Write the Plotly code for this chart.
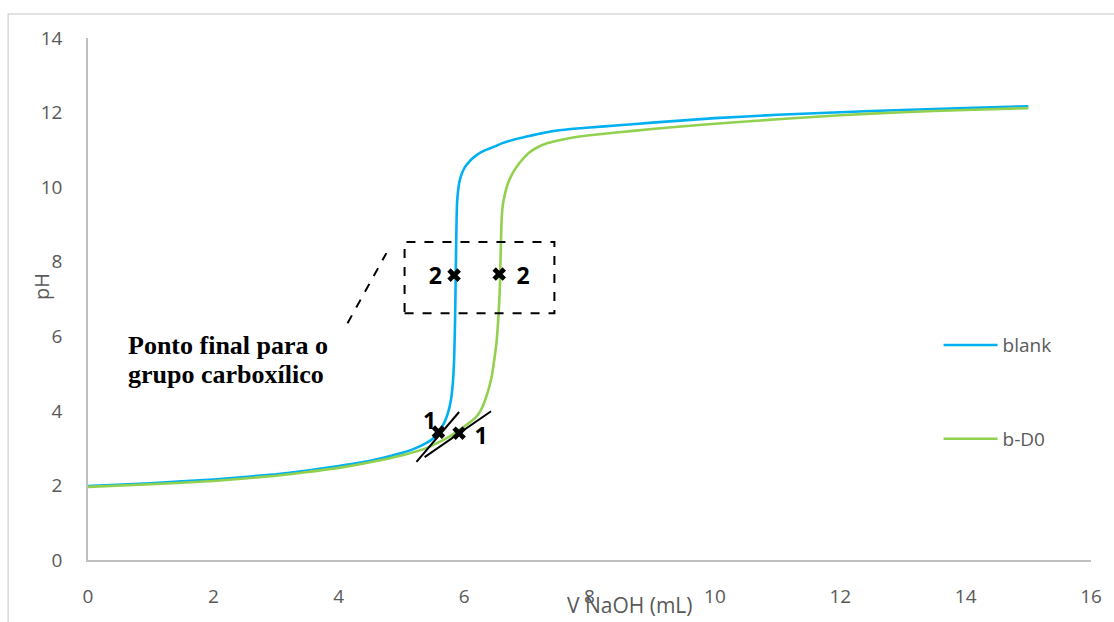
import plotly.graph_objects as go

# ---- data ----
blank_x = [0, 1, 2, 3, 3.5, 4, 4.5, 5, 5.2, 5.4, 5.5, 5.6, 5.68, 5.74, 5.79, 5.82, 5.84, 5.855, 5.865, 5.875, 5.885,
           5.9, 5.92, 5.95, 6.0, 6.04, 6.08, 6.14, 6.2, 6.27, 6.35, 6.5, 6.61, 6.8, 7.0, 7.2, 7.4, 7.7, 8.0, 8.47,
           9, 10, 11, 12, 13, 14, 15]
blank_y = [1.98, 2.06, 2.16, 2.3, 2.4, 2.52, 2.66, 2.87, 2.98, 3.14, 3.25, 3.45, 3.67, 3.93, 4.3, 4.75, 5.35, 6.4,
           7.5, 8.7, 9.5, 9.85, 10.1, 10.3, 10.5, 10.6, 10.68, 10.78, 10.86, 10.94, 11.0, 11.1, 11.18, 11.28, 11.36,
           11.43, 11.5, 11.56, 11.6, 11.66, 11.73, 11.85, 11.94, 12.01, 12.07, 12.12, 12.17]

bd0_x = [0, 1, 2, 3, 3.5, 4, 4.5, 5, 5.4, 5.76, 6.0, 6.1, 6.19, 6.26, 6.32, 6.38, 6.44, 6.48, 6.52, 6.55, 6.57, 6.58,
         6.59, 6.6, 6.62, 6.645, 6.67, 6.72, 6.76, 6.8, 6.88, 6.96, 7.04, 7.15, 7.31, 7.5, 7.67, 8.0, 8.47, 9, 10,
         11, 12, 13, 14, 15]
bd0_y = [1.96, 2.03, 2.12, 2.26, 2.36, 2.47, 2.62, 2.8, 3.0, 3.3, 3.58, 3.7, 3.83, 4.0, 4.22, 4.52, 4.92, 5.36, 5.9,
         6.6, 7.3, 8.0, 8.7, 9.2, 9.55, 9.77, 9.95, 10.19, 10.33, 10.45, 10.64, 10.8, 10.93, 11.05, 11.17, 11.25,
         11.31, 11.39, 11.47, 11.56, 11.7, 11.82, 11.93, 12.01, 12.07, 12.12]

# end-point markers and labels
mark_x = [5.59, 5.92, 5.84, 6.56]
mark_y = [3.43, 3.40, 7.64, 7.67]
label_text = ["1", "1", "2", "2"]
label_x = [5.45, 6.27, 5.54, 6.94]
label_y = [3.67, 3.27, 7.56, 7.56]

# tangent lines at point 1
tan1_x = [5.24, 5.92]
tan1_y = [2.63, 3.97]
tan2_x = [5.37, 6.43]
tan2_y = [2.76, 3.99]

# dashed box and pointer
box_x = [5.05, 7.44]
box_y = [6.62, 8.53]
ptr_x = [4.14, 4.76]
ptr_y = [6.35, 8.23]

note_lines = ["Ponto final para o", "grupo carboxílico"]
note_x = 0.6
note_y = [5.76, 4.97]

x_ticks = [0, 2, 4, 6, 8, 10, 12, 14, 16]
y_ticks = [0, 2, 4, 6, 8, 10, 12, 14]

GREY = "#595959"
FONT = "Open Sans"

fig = go.Figure()
fig.add_trace(go.Scatter(x=blank_x, y=blank_y, mode="lines", name="blank",
                         line=dict(color="#00B0F0", width=2.6, shape="spline", smoothing=0.4),
                         legendgroup="a"))
fig.add_trace(go.Scatter(x=bd0_x, y=bd0_y, mode="lines", name="b-D0",
                         line=dict(color="#92D050", width=2.6, shape="spline", smoothing=0.4),
                         legendgroup="b"))
fig.add_trace(go.Scatter(x=tan1_x, y=tan1_y, mode="lines", showlegend=False,
                         line=dict(color="black", width=2)))
fig.add_trace(go.Scatter(x=tan2_x, y=tan2_y, mode="lines", showlegend=False,
                         line=dict(color="black", width=2)))
fig.add_trace(go.Scatter(x=ptr_x, y=ptr_y, mode="lines", showlegend=False,
                         line=dict(color="black", width=2, dash="dash")))
fig.add_trace(go.Scatter(x=mark_x, y=mark_y, mode="markers", showlegend=False,
                         marker=dict(symbol="x", size=12, color="black")))
fig.add_trace(go.Scatter(x=label_x, y=label_y, mode="text", text=label_text, showlegend=False,
                         textfont=dict(family=FONT, size=23, color="black", weight="bold")))

fig.add_shape(type="rect", xref="x", yref="y", x0=box_x[0], x1=box_x[1], y0=box_y[0], y1=box_y[1],
              line=dict(color="black", width=2, dash="dash"))

# outer light border
fig.add_shape(type="rect", xref="paper", yref="paper", x0=-0.0796, x1=1.2, y0=-0.3, y1=1.046,
              line=dict(color="#D9D9D9", width=1.5), layer="below")

for txt, yy in zip(note_lines, note_y):
    fig.add_annotation(x=note_x, y=yy, xref="x", yref="y", text=txt, showarrow=False,
                       xanchor="left", yanchor="middle", align="left",
                       font=dict(family="Liberation Serif", size=26, color="black", weight="bold"))
fig.add_annotation(x=0.540, y=-0.086, xref="paper", yref="paper", text="V NaOH (mL)", showarrow=False,
                   xanchor="center", yanchor="middle", font=dict(family=FONT, size=21, color=GREY))
fig.add_annotation(x=-0.0458, y=0.523, xref="paper", yref="paper", text="pH", showarrow=False, textangle=-90,
                   xanchor="center", yanchor="middle", font=dict(family=FONT, size=20, color=GREY))

fig.update_layout(
    width=1114, height=622,
    margin=dict(l=88, r=21, t=38, b=62),
    plot_bgcolor="white", paper_bgcolor="white",
    font=dict(family=FONT, color=GREY),
    legend=dict(x=0.848, y=0.448, xanchor="left", yanchor="top", tracegroupgap=66,
                itemwidth=54, font=dict(family=FONT, size=19, color=GREY), bgcolor="rgba(0,0,0,0)"),
    xaxis=dict(range=[0, 16], tickvals=x_ticks, showgrid=False, zeroline=False, showline=True,
               linecolor="#BFBFBF", linewidth=1.5, ticks="", ticklabelstandoff=18,
               tickfont=dict(family=FONT, size=19, color=GREY)),
    yaxis=dict(range=[0, 14], tickvals=y_ticks, showgrid=False, zeroline=False, showline=True,
               linecolor="#BFBFBF", linewidth=1.5, ticks="", ticklabelstandoff=20,
               tickfont=dict(family=FONT, size=19, color=GREY)),
)

fig.write_html("out.html", config={"displayModeBar": False},
               post_script="document.body.style.margin='0';document.body.style.overflow='hidden';")
